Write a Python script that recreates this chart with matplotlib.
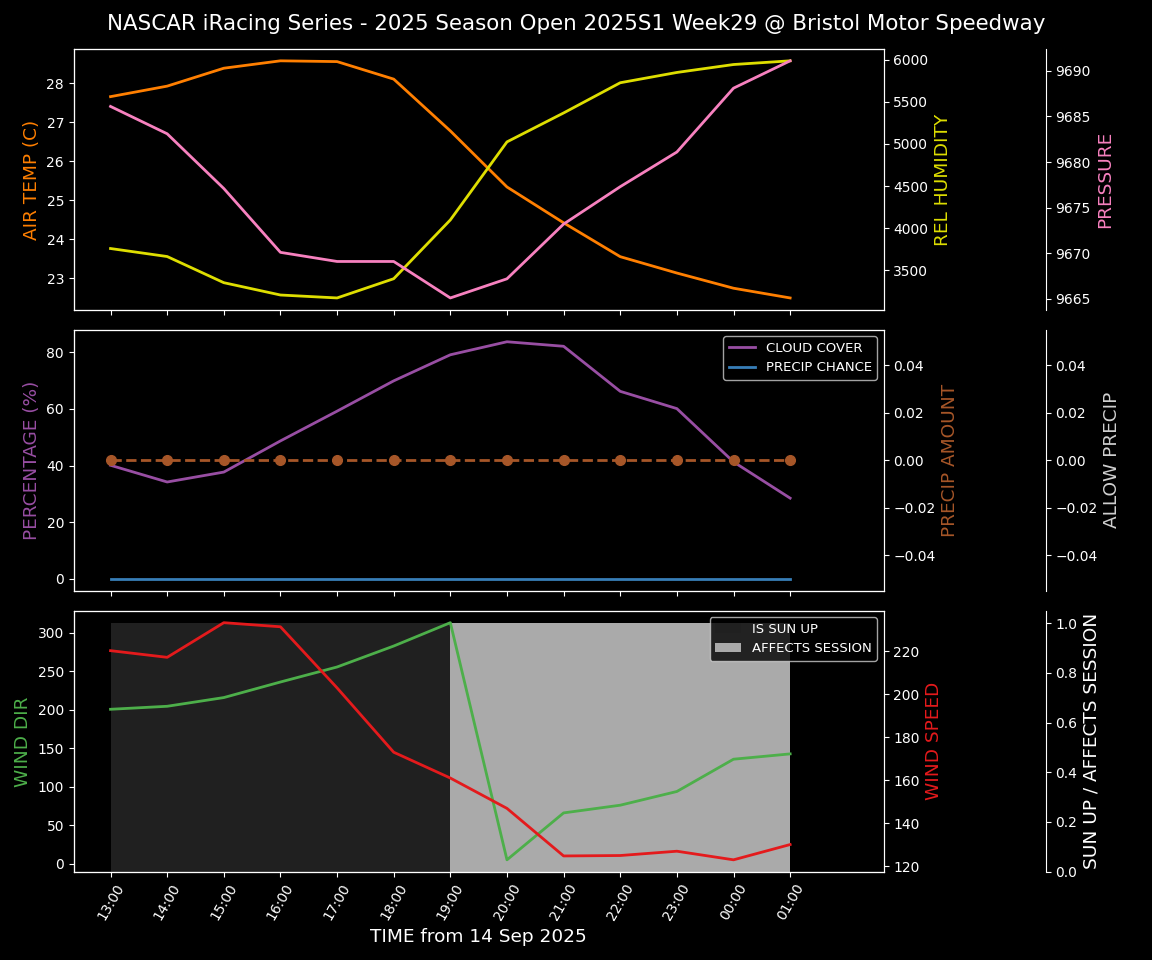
import matplotlib
matplotlib.use("Agg")
import matplotlib.pyplot as plt
import numpy as np

plt.style.use("dark_background")

hours = ["13:00", "14:00", "15:00", "16:00", "17:00", "18:00", "19:00",
         "20:00", "21:00", "22:00", "23:00", "00:00", "01:00"]

air_temp = [27.66, 27.93, 28.39, 28.58, 28.56, 28.11, 26.78, 25.34, 24.42, 23.55, 23.13, 22.74, 22.49]
rel_humidity = [3760, 3665, 3355, 3209, 3174, 3402, 4099, 5024, 5367, 5725, 5847, 5941, 5985]
pressure = [9686.1, 9683.1, 9677.1, 9670.1, 9669.1, 9669.1, 9665.1, 9667.2, 9673.2, 9677.3, 9681.1, 9688.1, 9691.1]

cloud_cover = [40.1, 34.2, 37.7, 48.7, 59.2, 69.9, 79.1, 83.7, 82.1, 66.2, 60.1, 41.3, 28.5]
precip_chance = [0, 0, 0, 0, 0, 0, 0, 0, 0, 0, 0, 0, 0]
precip_amount = [0, 0, 0, 0, 0, 0, 0, 0, 0, 0, 0, 0, 0]
allow_precip = [0, 0, 0, 0, 0, 0, 0, 0, 0, 0, 0, 0, 0]

wind_dir = [200.6, 204.5, 215.8, 236.0, 255.5, 282.7, 313.0, 5.2, 66.1, 76.1, 93.9, 135.8, 142.7]
wind_speed = [220.3, 217.2, 233.3, 231.4, 203.0, 173.1, 161.1, 147.0, 124.9, 125.1, 127.1, 123.1, 130.2]
sun_up = [1, 1, 1, 1, 1, 1, 0, 0, 0, 0, 0, 0, 0]
affects_session = [0, 0, 0, 0, 0, 0, 1, 1, 1, 1, 1, 1, 1]

x = np.arange(len(hours))
LBL = 13.3

fig, (ax1, ax2, ax3) = plt.subplots(3, 1, sharex=True, figsize=(11.52, 9.6), dpi=100)
fig.subplots_adjust(left=0.064, right=0.767, top=0.949, bottom=0.092, hspace=0.077)
fig.suptitle("NASCAR iRacing Series - 2025 Season Open 2025S1 Week29 @ Bristol Motor Speedway",
             fontsize=15.4, y=0.985)

# top: temp / humidity / pressure
ax1.plot(x, air_temp, color="#ff7f00", lw=2)
ax1.set_ylabel("AIR TEMP (C)", color="#ff7f00", fontsize=LBL)
t1 = ax1.twinx()
t1.plot(x, rel_humidity, color="#dede00", lw=2)
t1.set_ylabel("REL HUMIDITY", color="#dede00", fontsize=LBL)
t2 = ax1.twinx()
t2.spines["right"].set_position(("axes", 1.2))
t2.plot(x, pressure, color="#f781bf", lw=2)
t2.set_ylabel("PRESSURE", color="#f781bf", fontsize=LBL)

# middle: clouds / precip
ax2.plot(x, cloud_cover, color="#984ea3", lw=2, label="CLOUD COVER")
ax2.plot(x, precip_chance, color="#377eb8", lw=2, label="PRECIP CHANCE")
ax2.set_ylabel("PERCENTAGE (%)", color="#984ea3", fontsize=LBL)
ax2.legend(loc="upper right", fontsize=9.5)
t3 = ax2.twinx()
t4 = ax2.twinx()
t4.spines["right"].set_position(("axes", 1.2))
t4.fill_between(x, 0, allow_precip, color="#d0d0d0", lw=0)
t4.set_ylim(-0.055, 0.055)
t4.set_ylabel("ALLOW PRECIP", color="#d0d0d0", fontsize=LBL)
t3.plot(x, precip_amount, color="#a65628", lw=2, ls="--", marker="o", ms=7)
t3.set_ylim(-0.055, 0.055)
t3.set_ylabel("PRECIP AMOUNT", color="#a65628", fontsize=LBL)
t3.set_zorder(t4.get_zorder() + 1)
t3.patch.set_visible(False)

# bottom: wind / sun
ax3.plot(x, wind_dir, color="#4daf4a", lw=2)
ax3.set_ylabel("WIND DIR", color="#4daf4a", fontsize=LBL)
t5 = ax3.twinx()
t5.plot(x, wind_speed, color="#e41a1c", lw=2)
t5.set_ylabel("WIND SPEED", color="#e41a1c", fontsize=LBL)
t6 = ax3.twinx()
t6.spines["right"].set_position(("axes", 1.2))
t6.fill_between(x, 0, sun_up, step="post", color="#202020", lw=0, label="IS SUN UP")
t6.fill_between(x, 0, affects_session, step="post", color="#aaaaaa", lw=0, label="AFFECTS SESSION")
t6.set_ylim(0, 1.05)
t6.set_ylabel("SUN UP / AFFECTS SESSION", color="white", fontsize=LBL)
t6.legend(loc="upper right", fontsize=9.5)
ax3.set_zorder(t6.get_zorder() + 1)
ax3.patch.set_visible(False)
t5.set_zorder(ax3.get_zorder() + 1)
t5.patch.set_visible(False)

ax3.set_xlim(-0.65, 13.65)
ax3.set_xticks(x)
ax3.set_xticklabels(hours, rotation=60)
ax3.set_xlabel("TIME from 14 Sep 2025", fontsize=LBL)

fig.savefig("out.png")
